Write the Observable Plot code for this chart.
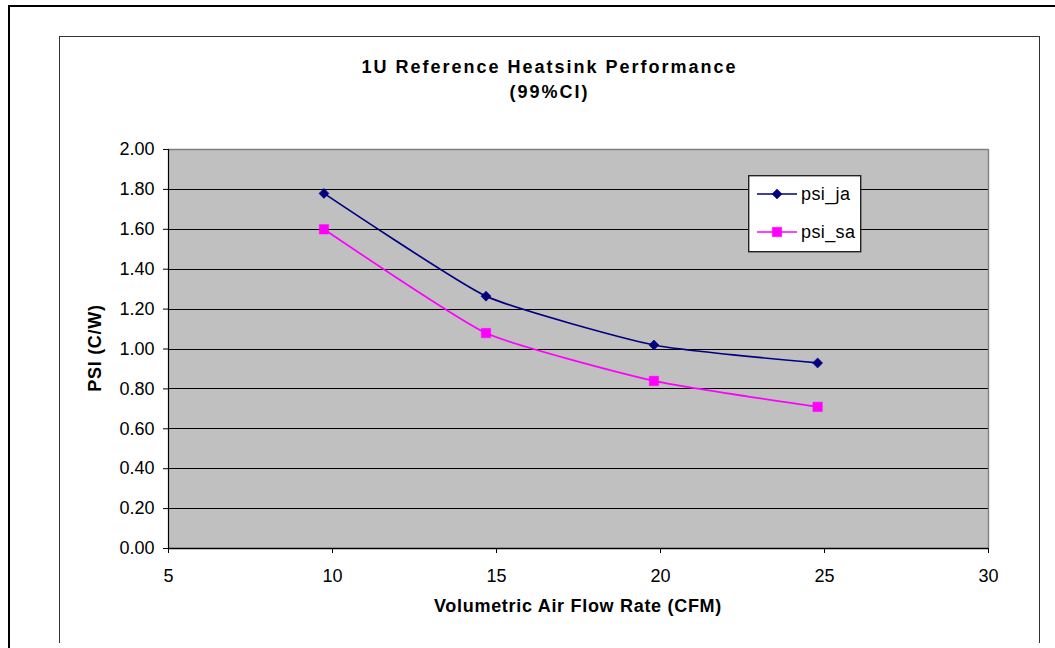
<!DOCTYPE html>
<html>
<head>
<meta charset="utf-8">
<script src="https://cdn.jsdelivr.net/npm/d3@7"></script>
<script src="https://cdn.jsdelivr.net/npm/@observablehq/plot@0.6"></script>
<style>
  html, body { margin: 0; padding: 0; background: #fff; }
  #chart { position: relative; width: 1055px; height: 648px; overflow: hidden; font-family: "Liberation Sans", Arial, sans-serif; }
  .outer { position: absolute; left: 8px; top: 5px; width: 1100px; height: 700px; border-left: 2px solid #000; border-top: 2px solid #000; box-sizing: border-box; }
  .inner { position: absolute; left: 59px; top: 36px; width: 981px; height: 607px; border: 1.4px solid #333; border-bottom: none; box-sizing: border-box; }
  .title { position: absolute; left: 59px; width: 981px; top: 55px; text-align: center; font-weight: bold; font-size: 18px; line-height: 25px; letter-spacing: 2px; color: #000; }
  .xlabel { position: absolute; left: 168px; width: 820px; top: 596px; text-align: center; font-weight: bold; font-size: 18px; line-height: 20px; letter-spacing: 0.7px; color: #000; }
  .ylabel { position: absolute; left: 95px; top: 348px; transform: translate(-50%, -50%) rotate(-90deg); white-space: nowrap; font-weight: bold; font-size: 18px; line-height: 20px; letter-spacing: 0.7px; color: #000; }
  #plot { position: absolute; left: 0; top: 0; }
  #legend { position: absolute; left: 748px; top: 175px; }
</style>
</head>
<body>
<div id="chart">
  <div class="outer"></div>
  <div class="inner"></div>
  <div id="plot"></div>
  <div class="title" id="title"></div>
  <div class="xlabel" id="xlabel"></div>
  <div class="ylabel" id="ylabel"></div>
  <div id="legend"></div>
</div>
<script>
// ---- data ----
const titleLines = ["1U Reference Heatsink Performance", "(99%CI)"];
const xLabel = "Volumetric Air Flow Rate (CFM)";
const yLabel = "PSI (C/W)";
const airFlow = [9.74, 14.68, 19.80, 24.79];
const psiJa = [1.78, 1.265, 1.02, 0.93];
const psiSa = [1.60, 1.08, 0.84, 0.71];
const seriesNames = ["psi_ja", "psi_sa"];
const seriesColors = ["#000080", "#FF00FF"];
const seriesSymbols = ["diamond2", "square"];
const xTicks = [5, 10, 15, 20, 25, 30];
const yTicks = [0, 0.2, 0.4, 0.6, 0.8, 1.0, 1.2, 1.4, 1.6, 1.8, 2.0];

// ---- build table ----
const rows = [];
[psiJa, psiSa].forEach((vals, s) => {
  vals.forEach((v, i) => rows.push({series: seriesNames[s], x: airFlow[i], y: v}));
});

document.getElementById("title").innerHTML = titleLines.join("<br>");
document.getElementById("xlabel").textContent = xLabel;
document.getElementById("ylabel").textContent = yLabel;

const fontSize = 18;
const plot = Plot.plot({
  width: 1055,
  height: 648,
  marginLeft: 168,
  marginRight: 67,
  marginTop: 149,
  marginBottom: 100,
  style: {background: "transparent", fontFamily: "'Liberation Sans', Arial, sans-serif", fontSize: fontSize + "px", overflow: "visible"},
  x: {domain: [xTicks[0], xTicks[xTicks.length - 1]]},
  y: {domain: [yTicks[0], yTicks[yTicks.length - 1]]},
  color: {domain: seriesNames, range: seriesColors},
  symbol: {domain: seriesNames, range: seriesSymbols},
  marks: [
    Plot.frame({fill: "#C0C0C0", stroke: null}),
    Plot.gridY(yTicks.slice(1, -1), {stroke: "#000", strokeOpacity: 1, strokeWidth: 1, shapeRendering: "crispEdges"}),
    Plot.ruleY([yTicks[yTicks.length - 1]], {stroke: "#808080", strokeWidth: 1.4}),
    Plot.ruleX([xTicks[xTicks.length - 1]], {stroke: "#808080", strokeWidth: 1.4}),
    Plot.ruleX([xTicks[0]], {stroke: "#000", strokeWidth: 1.2}),
    Plot.ruleY([yTicks[0]], {stroke: "#000", strokeWidth: 1.4}),
    Plot.axisY({ticks: yTicks, tickFormat: d3.format(".2f"), tickSize: 5, tickPadding: 9, label: null, fontSize: fontSize, stroke: "#000", style: {letterSpacing: "0.6px"}}),
    Plot.axisX({ticks: xTicks, tickFormat: d3.format("d"), tickSize: 5, tickPadding: 16, label: null, fontSize: fontSize, stroke: "#000", style: {letterSpacing: "0.6px"}}),
    Plot.line(rows, {x: "x", y: "y", z: "series", stroke: "series", strokeWidth: 1.7, curve: "cardinal", tension: 0.5}),
    Plot.dot(rows.filter(d => d.series === seriesNames[0]), {x: "x", y: "y", symbol: "series", fill: "series", stroke: "series", strokeWidth: 0.6, r: 4.5}),
    Plot.dot(rows.filter(d => d.series === seriesNames[1]), {x: "x", y: "y", symbol: "series", fill: "series", stroke: "series", strokeWidth: 0.5, r: 5.3})
  ]
});
document.getElementById("plot").appendChild(plot);

// ---- legend ----
const lg = d3.select("#legend").append("svg").attr("width", 114).attr("height", 78)
  .style("font-family", "'Liberation Sans', Arial, sans-serif");
lg.append("rect").attr("x", 0.7).attr("y", 0.7).attr("width", 112).attr("height", 76)
  .attr("fill", "#fff").attr("stroke", "#222").attr("stroke-width", 1.4);
seriesNames.forEach((name, i) => {
  const cy = 19 + i * 38;
  lg.append("line").attr("x1", 9).attr("x2", 49).attr("y1", cy).attr("y2", cy)
    .attr("stroke", seriesColors[i]).attr("stroke-width", 1.6);
  const sym = i === 0 ? d3.symbolDiamond2 : d3.symbolSquare;
  const size = i === 0 ? 64 : 88;
  lg.append("path").attr("d", d3.symbol(sym, size)()).attr("transform", `translate(29,${cy})`)
    .attr("fill", seriesColors[i]).attr("stroke", seriesColors[i]).attr("stroke-width", 0.5);
  lg.append("text").attr("x", 53).attr("y", cy + 6).attr("font-size", 18)
    .attr("letter-spacing", "0.4px").attr("fill", "#000").text(name);
});
</script>
</body>
</html>
